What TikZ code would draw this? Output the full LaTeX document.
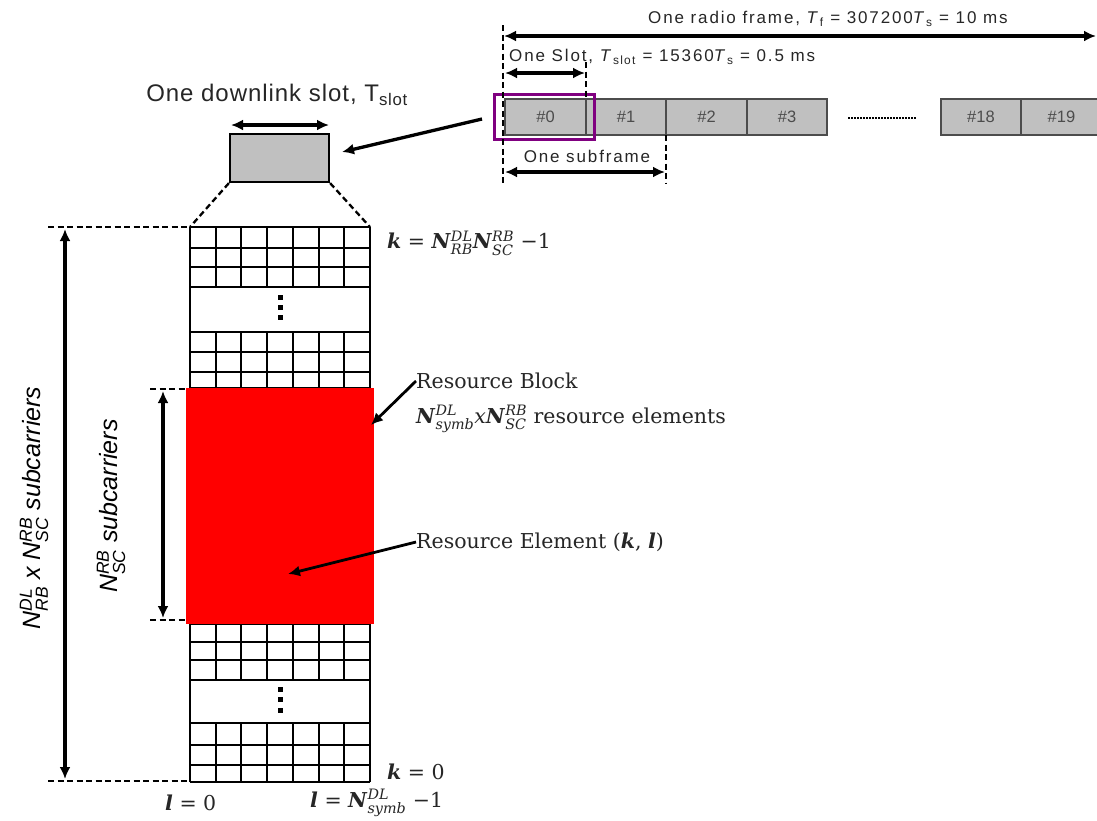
\documentclass[tikz,border=0pt]{standalone}
\usepackage{amsmath}
\usepackage{fontspec}
\setmainfont{Liberation Sans}
\newfontfamily\sansf{Liberation Sans}
\newfontfamily\spacedf[LetterSpace=11]{Liberation Sans}
\newfontfamily\dlf[LetterSpace=4]{Liberation Sans}
\newfontfamily\serf{DejaVu Serif}
\usetikzlibrary{arrows.meta}
\newcommand\SupSub[2]{\ensuremath{{}^{\text{#1}}_{\text{#2}}}}
\newcommand\Sub[1]{\ensuremath{{}_{\text{#1}}}}
\newcommand\mi[1]{\textbf{\textit{#1}}}
\definecolor{selcol}{RGB}{128,0,128}
\definecolor{boxgray}{RGB}{192,192,192}
\begin{document}
\begin{tikzpicture}[x=1pt,y=-1pt,
  tip/.tip={Latex[length=12pt,width=11pt]},
  arr/.style={line width=3.3pt,tip-tip},
  onearr/.style={line width=3.3pt,-tip},
  dsh/.style={line width=2.3pt,dash pattern=on 6pt off 3.5pt},
  gridln/.style={line width=1.9pt},
  fbox/.style={draw=black!70,line width=1.8pt,fill=boxgray,minimum width=80.5pt,minimum height=36pt,inner sep=0pt,font=\sansf\fontsize{16.5}{18}\selectfont,text=black!70},
  toptxt/.style={inner sep=0pt,font=\spacedf\fontsize{17}{19}\selectfont,text=black!85},
  sertxt/.style={inner sep=0pt,anchor=west,font=\serf\fontsize{20.5}{24}\selectfont,text=black!85},
  rottxt/.style={inner sep=0pt,rotate=90,font=\sansf\itshape\fontsize{25}{30}\selectfont},
]
\useasboundingbox (0,0) rectangle (1097,820);

% ---------- top: radio frame ----------
\node[fbox] (b0) at (545.5,117) {\#0};
\node[fbox] (b1) at (626,117) {\#1};
\node[fbox] (b2) at (706.5,117) {\#2};
\node[fbox] (b3) at (787,117) {\#3};
\node[fbox] (b18) at (981,117) {\#18};
\node[fbox] (b19) at (1061.5,117) {\#19};
\coordinate (dotA) at (848,118);
\coordinate (dotB) at (916,118);
\draw[line width=2pt,densely dotted] (dotA) -- (dotB);
\node[draw=selcol,line width=3pt,minimum width=100pt,minimum height=45pt,inner sep=0pt] (sel) at (544,116.5) {};

\coordinate (vL1) at (503,25);  \coordinate (vL2) at (503,185);
\coordinate (vS1) at (586,62);  \coordinate (vS2) at (586,99);
\coordinate (vF1) at (666,135); \coordinate (vF2) at (666,184);
\draw[dsh] (vL1) -- (vL2);
\draw[dsh] (vS1) -- (vS2);
\draw[dsh] (vF1) -- (vF2);

\coordinate (fa1) at (504,36); \coordinate (fa2) at (1096,36);
\draw[arr] (fa1) -- (fa2);
\coordinate (sa1) at (505,73); \coordinate (sa2) at (585,73);
\draw[arr] (sa1) -- (sa2);
\coordinate (sf1) at (505,172); \coordinate (sf2) at (665,172);
\draw[arr] (sf1) -- (sf2);

\node[toptxt,anchor=west] (tframe) at (648,19) {One radio frame, \textit{T}\Sub{f} = 307200\textit{T}\Sub{s} = 10 ms};
\node[toptxt,anchor=west] (tslot) at (509,57) {One Slot, \textit{T}\Sub{slot} = 15360\textit{T}\Sub{s} = 0.5 ms};
\node[toptxt] (tsub) at (587,156) {One subframe};

% ---------- downlink slot ----------
\node[draw,fill=boxgray,line width=2.2pt,minimum width=99pt,minimum height=48pt,inner sep=0pt] (slot) at (279.5,158) {};
\node[inner sep=0pt,font=\dlf\fontsize{24}{27}\selectfont,text=black!85] (tdl) at (277,95) {One downlink slot, T\Sub{slot}};
\coordinate (da1) at (231,125); \coordinate (da2) at (329,125);
\draw[arr] (da1) -- (da2);
\coordinate (pstart) at (482,119); \coordinate (ptip) at (342,152);
\draw[onearr] (pstart) -- (ptip);

\coordinate (gTL) at (190,227); \coordinate (gTR) at (370,227);
\draw[dsh] (slot.south west) -- (gTL);
\draw[dsh] (slot.south east) -- (gTR);

% ---------- resource grid ----------
\foreach \ya/\yb in {227/287,332/388,624/680,723/782} {
  \foreach \i in {1,...,6} \draw[gridln] ({190+\i*180/7},\ya) -- ({190+\i*180/7},\yb);
}
\draw[gridln] (190,227) -- (190,782);
\draw[gridln] (370,227) -- (370,782);
\foreach \y in {227,248,267,287,332,352,372,388,624,642,660,680,723,745,765,782}
  \draw[gridln] (190,\y) -- (370,\y);
\foreach \y in {297,307,317,689,699,710}
  \fill (278,\y-2.5) rectangle (283,\y+2.5);
\fill[red] (186,388) rectangle (374,624);

% ---------- left dimensioning ----------
\coordinate (oT1) at (48,227); \coordinate (oB1) at (48,781);
\coordinate (gBL) at (190,781);
\draw[dsh] (oT1) -- (gTL);
\draw[dsh] (oB1) -- (gBL);
\coordinate (oa1) at (65,229); \coordinate (oa2) at (65,779);
\draw[arr] (oa1) -- (oa2);
\coordinate (iT1) at (150,389); \coordinate (iT2) at (186,389);
\coordinate (iB1) at (150,620); \coordinate (iB2) at (186,620);
\draw[dsh] (iT1) -- (iT2);
\draw[dsh] (iB1) -- (iB2);
\coordinate (ia1) at (163,391); \coordinate (ia2) at (163,618);
\draw[arr] (ia1) -- (ia2);

\node[rottxt] (lout) at (34,508) {N\SupSub{DL}{RB} x N\SupSub{RB}{SC} subcarriers};
\node[rottxt] (lin) at (111,506) {N\SupSub{RB}{SC} subcarriers};

% ---------- right labels ----------
\node[sertxt] (kmax) at (387,243) {\mi{k} = \mi{N}\SupSub{\itshape DL}{\itshape RB}\mi{N}\SupSub{\itshape RB}{\itshape SC} −1};
\node[sertxt] (rb) at (416,381) {Resource Block};
\node[sertxt] (rbe) at (416,419) {\mi{N}\SupSub{\itshape DL}{\itshape symb}\textit{x}\mi{N}\SupSub{\itshape RB}{\itshape SC} resource elements};
\node[sertxt] (re) at (416,542) {Resource Element (\mi{k}, \mi{l})};
\node[sertxt] (k0) at (387,772) {\mi{k} = 0};
\node[sertxt] (l0) at (165,803) {\mi{l} = 0};
\node[sertxt] (lmax) at (310,803) {\mi{l} = \mi{N}\SupSub{\itshape DL}{\itshape symb} −1};

\coordinate (rbtip) at (371,425);
\draw[onearr,line width=2.8pt] (rb.west) -- (rbtip);
\coordinate (retip) at (288,574);
\draw[onearr,line width=2.8pt] (re.west) -- (retip);
\end{tikzpicture}
\end{document}
